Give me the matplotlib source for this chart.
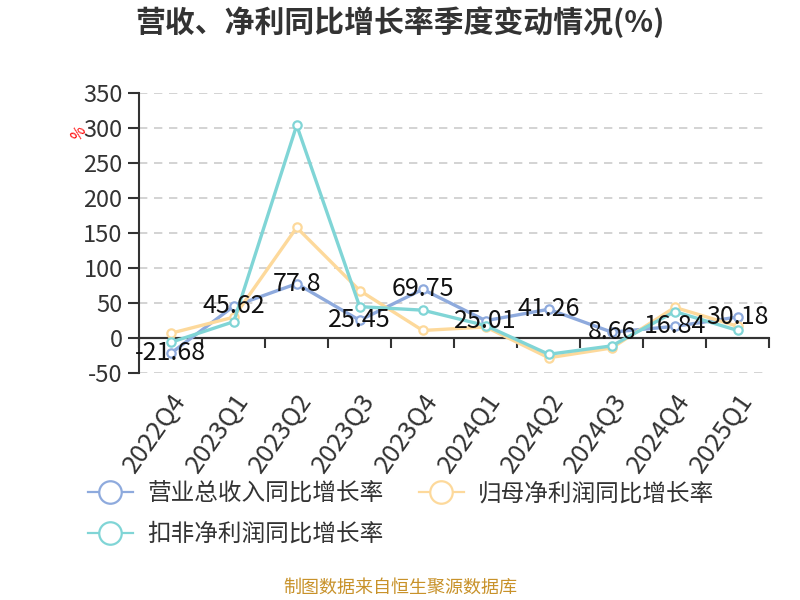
import numpy as np
import matplotlib
matplotlib.use('Agg')
import matplotlib.pyplot as plt

plt.rcParams['font.family'] = ['Noto Sans CJK SC', 'DejaVu Sans']
plt.rcParams['axes.unicode_minus'] = False

# data
quarters = ['2022Q4', '2023Q1', '2023Q2', '2023Q3', '2023Q4',
            '2024Q1', '2024Q2', '2024Q3', '2024Q4', '2025Q1']
revenue_yoy = [-21.68, 45.62, 77.8, 25.45, 69.75, 25.01, 41.26, 8.66, 16.84, 30.18]
parent_np_yoy = [7, 30, 158, 68, 11, 16, -28, -14, 44, 17]
deducted_np_yoy = [-6, 23.5, 304, 45, 40, 18, -23, -11, 38, 11]

series_names = ['营业总收入同比增长率', '归母净利润同比增长率', '扣非净利润同比增长率']
colors = ['#8eaadd', '#fdd99b', '#80d5d6']
yticks = [-50, 0, 50, 100, 150, 200, 250, 300, 350]

fig = plt.figure(figsize=(8, 6), dpi=100)
ax = fig.add_axes([0.174, 0.378, 0.7875, 0.467])

x = np.arange(len(quarters))
handles = []
for vals, c, name in zip([revenue_yoy, parent_np_yoy, deducted_np_yoy], colors, series_names):
    h, = ax.plot(x, vals, color=c, lw=2.4, marker='o', ms=6,
                 mfc='white', mec=c, mew=1.6, label=name, zorder=3)
    handles.append(h)

# value labels for revenue
for xi, v in zip(x, revenue_yoy):
    ax.text(xi, v, f'{v:g}', ha='center', va='center', fontsize=18,
            color='#111111', zorder=5)

ax.set_xlim(-0.5, len(quarters) - 0.5)
ax.set_ylim(yticks[0], yticks[-1])
ax.set_yticks(yticks)
ax.set_yticklabels([str(t) for t in yticks], fontsize=17, color='#333333')
ax.tick_params(axis='y', length=8, width=1.5, color='#333333', pad=4)
ax.yaxis.grid(True, linestyle=(0, (5, 4)), color='#cccccc', lw=1.2)
ax.set_axisbelow(True)

ax.set_xticks(x)
ax.set_xticklabels(quarters, rotation=55, ha='right', va='top',
                   rotation_mode='anchor', fontsize=18.5, color='#333333')
ax.tick_params(axis='x', length=0, pad=11)

for s in ['top', 'right', 'bottom']:
    ax.spines[s].set_visible(False)
ax.spines['left'].set_color('#333333')
ax.spines['left'].set_linewidth(1.5)

# zero line with boundary ticks
ax.axhline(0, color='#333333', lw=1.5, zorder=2)
zero_loc = (0 - yticks[0]) / (yticks[-1] - yticks[0])
sec = ax.secondary_xaxis(zero_loc)
sec.set_xticks(np.arange(len(quarters) + 1) - 0.5)
sec.set_xticklabels([])
sec.tick_params(length=7, width=1.5, color='#333333', direction='out')
sec.spines['bottom'].set_color('#333333')
sec.spines['bottom'].set_linewidth(1.5)

ax.text(-0.095, 0.855, '%', transform=ax.transAxes, rotation=60,
        color='red', fontsize=11, ha='center', va='center')

fig.text(0.5, 0.963, '营收、净利同比增长率季度变动情况(%)', ha='center', va='center',
         fontsize=21.5, fontweight='bold', color='#333333')

# reorder so row 1 holds the first two series
leg = fig.legend(handles=[handles[0], handles[2], handles[1]],
                 loc='upper left', bbox_to_anchor=(0.11, 0.196),
                 ncol=2, frameon=False, fontsize=17, markerscale=2.7,
                 handlelength=1.9, handletextpad=0.6, columnspacing=1.5,
                 labelspacing=0.75, labelcolor='#333333',
                 borderaxespad=0, borderpad=0)
for lh in leg.get_lines():
    lh.set_linewidth(1.6)

fig.text(0.5, 0.02, '制图数据来自恒生聚源数据库', ha='center', va='center',
         fontsize=13, color='#c8922a')

fig.savefig('out.png', dpi=100)
